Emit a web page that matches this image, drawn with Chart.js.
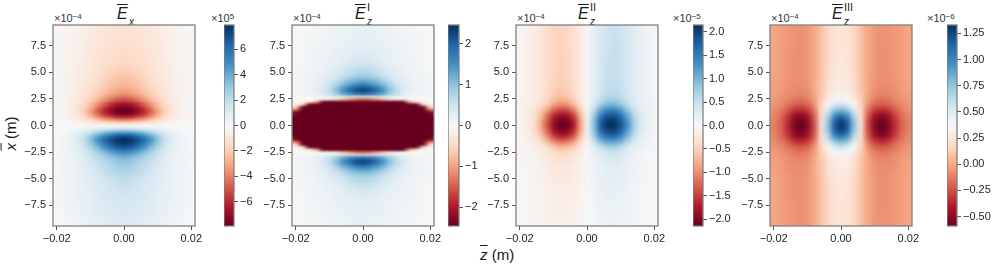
<!DOCTYPE html>
<html><head><meta charset="utf-8">
<script src="https://cdn.jsdelivr.net/npm/chart.js@4"></script>
<style>
html,body{margin:0;padding:0;background:#fff;width:997px;height:266px;overflow:hidden}
canvas{position:absolute;top:0}
.t{position:absolute;font-family:"Liberation Sans",Arial,sans-serif;color:#1a1a1a;white-space:nowrap;line-height:1}
.ttl{font-size:16px;font-style:italic;top:6px}
.ov{text-decoration:overline;text-decoration-thickness:1px}
.ttl sub{font-size:10px;position:absolute;left:12px;top:11px}
.ttl sup{font-size:11px;font-style:normal;position:absolute;left:12px;top:-4px}
.off{font-size:11px;top:13px;color:#333}
.off sup{font-size:8px;position:relative;top:-3px;vertical-align:baseline}
.lab{font-size:15px}
</style></head><body>
<svg width="0" height="0" style="position:absolute">
<filter id="b08" color-interpolation-filters="sRGB"><feGaussianBlur stdDeviation="2.6 0.8"/></filter>
<filter id="b11" color-interpolation-filters="sRGB"><feGaussianBlur stdDeviation="2.6 1.1"/></filter>
<filter id="b20" color-interpolation-filters="sRGB"><feGaussianBlur stdDeviation="2.6 2.2"/></filter>
<filter id="b40" color-interpolation-filters="sRGB"><feGaussianBlur stdDeviation="2.6 4.5"/></filter>
</svg>
<div class="t ttl" style="left:117px"><span class="ov">E</span><sub>x</sub></div>
<div class="t ttl" style="left:355px"><span class="ov">E</span><sub>z</sub><sup>I</sup></div>
<div class="t ttl" style="left:578px"><span class="ov">E</span><sub>z</sub><sup>II</sup></div>
<div class="t ttl" style="left:832px"><span class="ov">E</span><sub>z</sub><sup>III</sup></div>
<div class="t off" style="left:54px">×10<sup>−4</sup></div>
<div class="t off" style="left:293px">×10<sup>−4</sup></div>
<div class="t off" style="left:517px">×10<sup>−4</sup></div>
<div class="t off" style="left:771px">×10<sup>−4</sup></div>
<div class="t off" style="left:211px">×10<sup>5</sup></div>
<div class="t off" style="left:673px">×10<sup>−5</sup></div>
<div class="t off" style="left:927px">×10<sup>−6</sup></div>
<div class="t lab" style="left:480px;top:247px"><span class="ov" style="font-style:italic">z</span> (m)</div>
<div class="t lab" style="left:-7px;top:126px;transform:rotate(-90deg);transform-origin:center"><span class="ov" style="font-style:italic">x</span> (m)</div>
<script>
const RDBU=['#67001f','#b2182b','#d6604d','#f4a582','#fddbc7','#f7f7f7','#d1e5f0','#92c5de','#4393c3','#2166ac','#053061'];
const zTicks=[-0.02,0,0.02];
const zTickLabels=['−0.02','0.00','0.02'];
const xTicks=[-7.5,-5,-2.5,0,2.5,5,7.5];
const xTickLabels=['−7.5','−5.0','−2.5','0.0','2.5','5.0','7.5'];
const zCols=[0,2,4,6,8,10,12,14,16,18,20,22];

const exRows=[0,.25,.5,.75,1,1.25,1.5,1.75,2,2.5,3,3.5,4,5,6,7,8,9,10];
const exTable=[
[0,0,0,0,0,0,0,0,0,0,0,0],
[-1.5,-1.45,-1.3,-1.1,-.85,-.6,-.38,-.2,-.1,-.05,-.02,0],
[-3.6,-3.45,-3.1,-2.6,-2,-1.4,-.9,-.5,-.25,-.12,-.06,-.02],
[-5.6,-5.4,-4.8,-4.1,-3.2,-2.2,-1.4,-.8,-.4,-.2,-.09,-.03],
[-7.2,-6.9,-6.2,-5.3,-4.1,-2.9,-1.75,-1,-.5,-.24,-.11,-.04],
[-7.9,-7.7,-7,-6,-4.7,-3.2,-1.9,-1.05,-.52,-.26,-.12,-.05],
[-7.9,-7.7,-7,-5.9,-4.6,-3.1,-1.9,-1.05,-.54,-.26,-.12,-.05],
[-7.6,-7.3,-6.5,-5.4,-4.1,-2.8,-1.75,-1,-.52,-.26,-.12,-.05],
[-6.8,-6.5,-5.7,-4.7,-3.5,-2.5,-1.6,-.95,-.5,-.25,-.12,-.05],
[-5.1,-4.8,-4.2,-3.4,-2.6,-1.9,-1.3,-.8,-.46,-.25,-.12,-.05],
[-3.6,-3.4,-3,-2.5,-2,-1.5,-1.05,-.7,-.43,-.24,-.12,-.05],
[-3,-2.85,-2.5,-2.15,-1.75,-1.35,-.95,-.65,-.42,-.24,-.12,-.05],
[-2.6,-2.45,-2.2,-1.9,-1.55,-1.2,-.88,-.62,-.4,-.23,-.12,-.05],
[-2,-1.9,-1.75,-1.55,-1.3,-1.05,-.8,-.57,-.38,-.22,-.11,-.05],
[-1.65,-1.6,-1.5,-1.35,-1.15,-.92,-.72,-.53,-.36,-.21,-.11,-.05],
[-1.45,-1.4,-1.3,-1.2,-1.02,-.85,-.66,-.5,-.34,-.2,-.11,-.05],
[-1.3,-1.25,-1.2,-1.08,-.94,-.78,-.62,-.46,-.32,-.2,-.1,-.05],
[-1.15,-1.12,-1.05,-.98,-.85,-.72,-.57,-.43,-.3,-.19,-.1,-.05],
[-1.1,-1.07,-1,-.93,-.82,-.69,-.55,-.42,-.29,-.18,-.1,-.05]];

const ez1Rows=[0,.25,.5,.75,1,1.25,1.5,1.75,2,2.25,2.5,2.75,3,3.25,3.5,4,4.5,5,6,7,8,9,10];
const ez1Table=[
[-9,-9,-9,-9,-9,-9,-9,-9,-9,-9,-9,-9],
[-9,-9,-9,-9,-9,-9,-9,-9,-9,-9,-9,-9],
[-9,-9,-9,-9,-9,-9,-9,-9,-9,-9,-9,-6],
[-9,-9,-9,-9,-9,-9,-9,-9,-9,-9,-9,-2.5],
[-9,-9,-9,-9,-9,-9,-9,-9,-9,-9,-6,-1.2],
[-9,-9,-9,-9,-9,-9,-9,-9,-9,-9,-3,-.6],
[-9,-9,-9,-9,-9,-9,-9,-9,-9,-6,-1.4,-.3],
[-9,-9,-9,-9,-9,-9,-9,-9,-6,-2.6,-.5,-.1],
[-9,-9,-9,-9,-9,-9,-9,-6,-2.6,-.6,-.15,-.03],
[-9,-9,-9,-9,-9,-6,-2.6,-.9,-.3,-.05,0,0],
[-1.4,-1.3,-1.05,-.7,-.35,-.12,-.03,0,0,0,0,0],
[.6,.6,.55,.45,.33,.22,.15,.1,.07,.05,.03,.02],
[2,1.9,1.7,1.35,.95,.6,.35,.2,.12,.08,.05,.02],
[2.42,2.3,1.98,1.55,1.05,.65,.38,.22,.14,.09,.05,.03],
[2.2,2.1,1.82,1.45,1,.63,.38,.23,.14,.09,.05,.03],
[1.5,1.42,1.25,1,.72,.48,.31,.2,.13,.09,.05,.03],
[1,.95,.84,.68,.5,.35,.24,.16,.11,.08,.05,.03],
[.7,.66,.58,.47,.36,.26,.18,.13,.09,.07,.04,.02],
[.42,.4,.35,.29,.23,.18,.13,.1,.07,.05,.03,.02],
[.3,.29,.26,.22,.18,.14,.11,.08,.06,.04,.03,.01],
[.24,.23,.2,.18,.15,.12,.09,.07,.05,.04,.02,.01],
[.2,.19,.17,.15,.13,.1,.08,.06,.05,.03,.02,.01],
[.18,.17,.15,.13,.12,.09,.08,.06,.04,.03,.02,.01]];

const ez2Rows=[10,9,8,7,6,5,4,3,2.5,2,1.5,1,.5,0,-.5,-1,-1.5,-2,-2.5,-3,-4,-5,-6,-7,-8,-9,-10];
const ez2Table=[
[0,.17,.34,.44,.48,.45,.37,.27,.17,.1,.05,.02],
[0,.17,.35,.45,.48,.46,.37,.27,.17,.1,.05,.02],
[0,.18,.35,.45,.49,.46,.37,.27,.18,.1,.05,.02],
[0,.18,.36,.46,.5,.47,.38,.28,.18,.11,.05,.02],
[0,.18,.36,.47,.5,.47,.38,.28,.18,.11,.05,.02],
[0,.18,.36,.48,.51,.47,.37,.27,.18,.11,.05,.02],
[0,.18,.38,.5,.53,.48,.37,.27,.18,.11,.05,.02],
[0,.2,.42,.56,.6,.54,.4,.28,.18,.11,.05,.02],
[0,.24,.52,.7,.74,.65,.45,.3,.19,.11,.06,.03],
[0,.3,.7,.95,1,.85,.55,.34,.2,.12,.06,.03],
[0,.5,1.08,1.4,1.45,1.25,.85,.5,.26,.13,.06,.03],
[0,.7,1.45,1.8,1.85,1.62,1.12,.62,.3,.14,.07,.03],
[0,.82,1.68,2.05,2.08,1.83,1.28,.7,.33,.14,.07,.03],
[0,.85,1.75,2.12,2.14,1.9,1.35,.75,.35,.15,.07,.03],
[0,.78,1.6,1.96,2,1.75,1.2,.65,.3,.13,.06,.02],
[0,.62,1.3,1.62,1.68,1.45,.98,.52,.25,.11,.05,.02],
[0,.42,.9,1.12,1.18,1,.66,.36,.18,.09,.04,.02],
[0,.22,.5,.66,.7,.58,.36,.2,.11,.06,.04,.02],
[0,.15,.32,.44,.47,.4,.26,.15,.09,.05,.03,.01],
[0,.11,.24,.32,.34,.3,.2,.12,.07,.05,.03,.01],
[0,.09,.18,.24,.26,.23,.16,.1,.06,.04,.02,.01],
[0,.08,.16,.21,.22,.2,.14,.09,.06,.04,.02,.01],
[0,.07,.14,.18,.19,.17,.12,.08,.05,.03,.02,.01],
[0,.06,.12,.16,.17,.15,.11,.07,.05,.03,.02,.01],
[0,.05,.11,.14,.15,.13,.1,.07,.04,.03,.02,.01],
[0,.05,.1,.13,.14,.12,.09,.06,.04,.03,.02,.01],
[0,.05,.1,.13,.14,.12,.09,.06,.04,.03,.02,.01]];

const ez3Rows=[0,.5,1,1.5,2,2.5,3,3.5,4,5,6,8,10];
const ez3Table=[
[1.33,1.18,.75,.25,-.25,-.5,-.59,-.53,-.35,-.2,-.12,-.06],
[1.27,1.13,.72,.24,-.24,-.48,-.57,-.51,-.34,-.19,-.11,-.06],
[1.08,.96,.63,.22,-.2,-.42,-.5,-.45,-.3,-.17,-.1,-.05],
[.82,.73,.5,.19,-.13,-.3,-.35,-.32,-.21,-.13,-.08,-.04],
[.56,.5,.36,.16,-.07,-.19,-.22,-.2,-.14,-.09,-.06,-.03],
[.4,.36,.27,.13,-.03,-.12,-.15,-.14,-.1,-.07,-.04,-.02],
[.33,.3,.23,.11,-.01,-.09,-.11,-.1,-.08,-.05,-.03,-.01],
[.3,.28,.21,.1,0,-.07,-.09,-.09,-.07,-.04,-.02,-.01],
[.29,.27,.2,.1,0,-.06,-.08,-.08,-.06,-.04,-.02,0],
[.27,.25,.18,.09,0,-.05,-.07,-.07,-.05,-.03,-.01,0],
[.26,.24,.17,.09,0,-.05,-.07,-.07,-.05,-.03,-.01,0],
[.25,.23,.17,.09,0,-.05,-.07,-.06,-.05,-.03,-.01,0],
[.24,.22,.16,.08,0,-.05,-.06,-.06,-.04,-.03,-.01,0]];

const cb1Ticks=[-6,-4,-2,0,2,4,6], cb1Labels=['−6','−4','−2','0','2','4','6'];
const cb2Ticks=[-2,-1,0,1,2], cb2Labels=['−2','−1','0','1','2'];
const cb3Ticks=[-2,-1.5,-1,-.5,0,.5,1,1.5,2], cb3Labels=['−2.0','−1.5','−1.0','−0.5','0.0','0.5','1.0','1.5','2.0'];
const cb4Ticks=[-.5,-.25,0,.25,.5,.75,1,1.25], cb4Labels=['−0.50','−0.25','0.00','0.25','0.50','0.75','1.00','1.25'];

function hex(c){return [1,3,5].map(i=>parseInt(c.substr(i,2),16));}
function color(v,min,max){
  let t=(v-min)/(max-min); t=Math.max(0,Math.min(1,t))*10;
  const i=Math.min(9,Math.floor(t)),f=t-i,a=hex(RDBU[i]),b=hex(RDBU[i+1]);
  return 'rgb('+a.map((p,k)=>Math.round(p+(b[k]-p)*f)).join(',')+')';
}
function cells(rows,table,signZ,signX){
  let r=rows.map((x,i)=>({x,vals:table[i],s:1}));
  if(signX!==null) rows.forEach((x,i)=>{if(x!==0) r.push({x:-x,vals:table[i],s:signX});});
  r.sort((a,b)=>a.x-b.x);
  const out=[];
  r.forEach((row,i)=>{
    const lo=i?(r[i-1].x+row.x)/2:row.x-1, hi=i<r.length-1?(r[i+1].x+row.x)/2:row.x+1;
    zCols.forEach((z,k)=>{
      const v=row.vals[k]*row.s;
      out.push({x:z/1000,y:[lo,hi],v});
      if(z!==0) out.push({x:-z/1000,y:[lo,hi],v:v*signZ});
    });
  });
  return out;
}
const FONT={family:'"Liberation Sans",Arial,sans-serif',size:11};
const FRAME='#808080',TICK='#555555',TXT='#262626';
function frame(c,a){c.save();c.strokeStyle=FRAME;c.lineWidth=1.3;c.strokeRect(a.left,a.top,a.width,a.height);c.restore();}
function setTicks(list){return s=>{s.ticks=list.map(value=>({value}));};}
function mk(left,width){const c=document.createElement('canvas');c.width=width;c.height=266;c.style.left=left+'px';c.style.width=width+'px';c.style.height='266px';document.body.appendChild(c);return c;}
function panel(frameLeft,data,min,max,zones){
  const LEFT=46,W=142,canvasW=LEFT+W+22;
  new Chart(mk(frameLeft-LEFT,canvasW),{
    type:'bar',
    data:{datasets:[{data,borderWidth:0,barPercentage:1,categoryPercentage:1,
      backgroundColor:c=>color(c.raw?c.raw.v:0,min,max)}]},
    options:{responsive:false,animation:false,events:[],devicePixelRatio:1,
      layout:{padding:{top:25,right:22,bottom:0,left:0}},
      plugins:{legend:{display:false},tooltip:{enabled:false}},
      scales:{
        x:{type:'linear',min:-0.0211,max:0.0211,offset:false,afterBuildTicks:setTicks(zTicks),afterFit:s=>{s.height=40;},
          grid:{offset:false,drawOnChartArea:false,tickColor:TICK,tickLength:4,tickWidth:1},border:{display:false},
          ticks:{font:FONT,color:TXT,maxRotation:0,autoSkip:false,padding:2,callback:(v,i)=>zTickLabels[i]}},
        y:{min:-9.45,max:9.45,afterBuildTicks:setTicks(xTicks),afterFit:s=>{s.width=LEFT;},
          grid:{drawOnChartArea:false,tickColor:TICK,tickLength:4,tickWidth:1},border:{display:false},
          ticks:{font:FONT,color:TXT,autoSkip:false,padding:3,callback:(v,i)=>xTickLabels[i]}}
      }},
    plugins:[{id:'smooth',afterDatasetsDraw(ch){
      const a=ch.chartArea,c=ch.ctx,Y=ch.scales.y;
      const tmp=document.createElement('canvas');tmp.width=ch.canvas.width;tmp.height=ch.canvas.height;
      tmp.getContext('2d').drawImage(ch.canvas,0,0);
      zones.forEach(z=>{
        const top=Math.max(a.top,Y.getPixelForValue(z[1])),bot=Math.min(a.bottom,Y.getPixelForValue(z[0]));
        c.save();c.beginPath();c.rect(a.left,top,a.width,bot-top);c.clip();
        c.filter='url(#'+z[2]+')';
        c.drawImage(tmp,a.left,a.top,a.width,a.height,a.left,a.top,a.width,a.height);
        c.restore();
      });
      frame(c,a);
    }}]
  });
}
function colorbar(left,width,min,max,ticks,labels){
  const canvasW=width+45;
  new Chart(mk(left,canvasW),{
    type:'bar',
    data:{labels:[''],datasets:[{data:[[min,max]],borderWidth:0,barPercentage:1,categoryPercentage:1,
      backgroundColor:c=>{
        const a=c.chart.chartArea; if(!a) return '#f7f7f7';
        const g=c.chart.ctx.createLinearGradient(0,a.bottom,0,a.top);
        RDBU.forEach((col,i)=>g.addColorStop(i/10,col)); return g;
      }}]},
    options:{responsive:false,animation:false,events:[],devicePixelRatio:1,
      layout:{padding:{top:25,right:0,bottom:40,left:0}},
      plugins:{legend:{display:false},tooltip:{enabled:false}},
      scales:{
        x:{display:false,offset:true},
        y:{position:'right',min,max,afterBuildTicks:setTicks(ticks),afterFit:s=>{s.width=45;},
          grid:{drawOnChartArea:false,tickColor:TICK,tickLength:4,tickWidth:1},border:{display:false},
          ticks:{font:FONT,color:TXT,autoSkip:false,padding:2,callback:(v,i)=>labels[i]}}
      }},
    plugins:[{id:'fr',afterDatasetsDraw(ch){frame(ch.ctx,ch.chartArea);}}]
  });
}
const exZones=[[-10,-4.5,'b40'],[-4.5,-2.25,'b20'],[-2.25,2.25,'b11'],[2.25,4.5,'b20'],[4.5,10,'b40']];
const ez1Zones=[[-10,-5.5,'b40'],[-5.5,-2.9,'b20'],[-2.9,2.9,'b08'],[2.9,5.5,'b20'],[5.5,10,'b40']];
const ez2Zones=[[-10,10,'b20']];
const ez3Zones=[[-10,10,'b20']];
panel(53,cells(exRows,exTable,1,-1),-7.9,7.9,exZones);
panel(292,cells(ez1Rows,ez1Table,1,1),-2.46,2.46,ez1Zones);
panel(516,cells(ez2Rows,ez2Table,-1,null),-2.14,2.14,ez2Zones);
panel(770,cells(ez3Rows,ez3Table,1,1),-0.59,1.33,ez3Zones);
colorbar(224,10,-7.9,7.9,cb1Ticks,cb1Labels);
colorbar(448,11,-2.46,2.46,cb2Ticks,cb2Labels);
colorbar(693,10,-2.14,2.14,cb3Ticks,cb3Labels);
colorbar(947,10,-0.59,1.33,cb4Ticks,cb4Labels);
</script>
</body></html>
